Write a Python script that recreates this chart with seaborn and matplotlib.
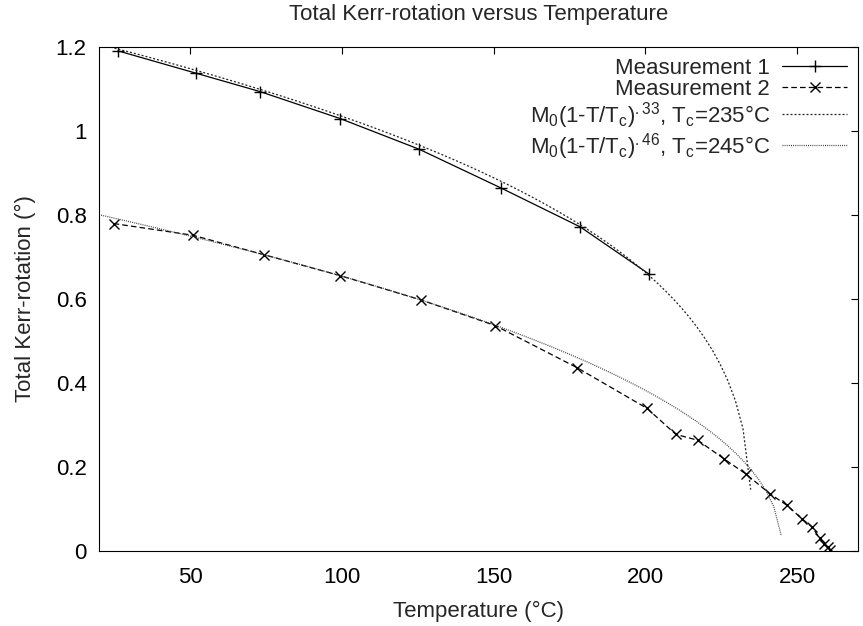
import numpy as np
import pandas as pd
import matplotlib
matplotlib.use("Agg")
import matplotlib.pyplot as plt
import seaborn as sns
from matplotlib.ticker import FuncFormatter

# Measured total Kerr rotation (degrees) versus temperature (deg C)
temp_m1 = [26.3, 51.9, 73.1, 99.4, 125.4, 152.3, 178.5, 201.1]
kerr_m1 = [1.190, 1.137, 1.093, 1.029, 0.956, 0.864, 0.771, 0.659]

temp_m2 = [24.8, 51.0, 74.2, 99.4, 126.1, 150.5, 177.4, 200.5, 210.0, 217.2,
           226.0, 233.2, 240.9, 246.6, 251.7, 254.8, 257.4, 258.9, 260.0, 260.9]
kerr_m2 = [0.779, 0.751, 0.705, 0.655, 0.597, 0.536, 0.436, 0.339, 0.277, 0.263,
           0.218, 0.182, 0.136, 0.108, 0.075, 0.057, 0.030, 0.017, 0.008, 0.002]

# Power-law fit parameters M0 * (1 - T/Tc)^beta
fit1_m0, fit1_beta, fit1_tc = 1.242, 0.33, 235.0
fit2_m0, fit2_beta, fit2_tc = 0.832, 0.46, 245.0

x_min, x_max = 20, 270
x_ticks = [50, 100, 150, 200, 250]
y_ticks = [0, 0.2, 0.4, 0.6, 0.8, 1.0, 1.2]


def power_law(t, m0, beta, tc):
    r = 1.0 - t / tc
    out = np.full_like(t, np.nan)
    ok = r > 0
    out[ok] = m0 * r[ok] ** beta
    return out


# Sample the fit functions the way the plotting program does (100 samples)
t_grid = np.linspace(x_min, x_max, 100)
fit1 = power_law(t_grid, fit1_m0, fit1_beta, fit1_tc)
fit2 = power_law(t_grid, fit2_m0, fit2_beta, fit2_tc)

df_m1 = pd.DataFrame({"T": temp_m1, "K": kerr_m1})
df_m2 = pd.DataFrame({"T": temp_m2, "K": kerr_m2})
df_f1 = pd.DataFrame({"T": t_grid, "K": fit1}).dropna()
df_f2 = pd.DataFrame({"T": t_grid, "K": fit2}).dropna()

sns.set_theme(style="white")
plt.rcParams["font.family"] = ["Liberation Sans", "DejaVu Sans"]
plt.rcParams["mathtext.fontset"] = "custom"
plt.rcParams["mathtext.rm"] = "Liberation Sans"
plt.rcParams["mathtext.it"] = "Liberation Sans"
plt.rcParams["mathtext.bf"] = "Liberation Sans"
plt.rcParams["mathtext.default"] = "regular"
plt.rcParams["axes.linewidth"] = 0.8

fig = plt.figure(figsize=(8.63, 6.26), dpi=100)
ax = fig.add_axes([99 / 863, 1 - 550.7 / 626, (858 - 99) / 863, (550.7 - 46.7) / 626])

sns.lineplot(data=df_m1, x="T", y="K", ax=ax, sort=False, estimator=None,
             color="black", lw=0.9, marker="+", markersize=8, markeredgewidth=1.0,
             markeredgecolor="black", label="Measurement 1")
sns.lineplot(data=df_m2, x="T", y="K", ax=ax, sort=False, estimator=None,
             color="black", lw=0.9, marker="x", markersize=6.5, markeredgewidth=1.0,
             markeredgecolor="black", dashes=False, label="Measurement 2")
sns.lineplot(data=df_f1, x="T", y="K", ax=ax, sort=False, estimator=None,
             color="#222222", lw=0.9,
             label=r"M$_0$(1-T/T$_c$)$^{.33}$, T$_c$=235°C")
sns.lineplot(data=df_f2, x="T", y="K", ax=ax, sort=False, estimator=None,
             color="#444444", lw=0.9,
             label=r"M$_0$(1-T/T$_c$)$^{.46}$, T$_c$=245°C")

lines = ax.get_lines()
lines[1].set_dashes([4.5, 2.5])
lines[2].set_dashes([1.6, 1.6])
lines[3].set_dashes([0.8, 0.9])

ax.set_xlim(x_min, x_max)
ax.set_ylim(0, 1.2)
ax.set_xticks(x_ticks)
ax.set_yticks(y_ticks)
ax.yaxis.set_major_formatter(FuncFormatter(lambda v, p: f"{v:g}"))
ax.tick_params(direction="in", length=5, width=0.8, top=True, right=True,
               labelsize=16, colors="black")
ax.tick_params(axis="x", pad=12)
ax.tick_params(axis="y", pad=9)
for s in ax.spines.values():
    s.set_visible(True)
    s.set_color("black")

ax.set_title("Total Kerr-rotation versus Temperature", fontsize=16, pad=19)
ax.set_xlabel("Temperature (°C)", fontsize=16, labelpad=9)
ax.set_ylabel("Total Kerr-rotation (°)", fontsize=16, labelpad=14)

leg = ax.legend(loc="upper right", bbox_to_anchor=(1.0, 1.0), frameon=False,
                markerfirst=False, fontsize=16, handlelength=2.9,
                handletextpad=0.55, labelspacing=0.0, borderaxespad=0.2,
                borderpad=0.3)

fig.savefig("out.png", dpi=100)
